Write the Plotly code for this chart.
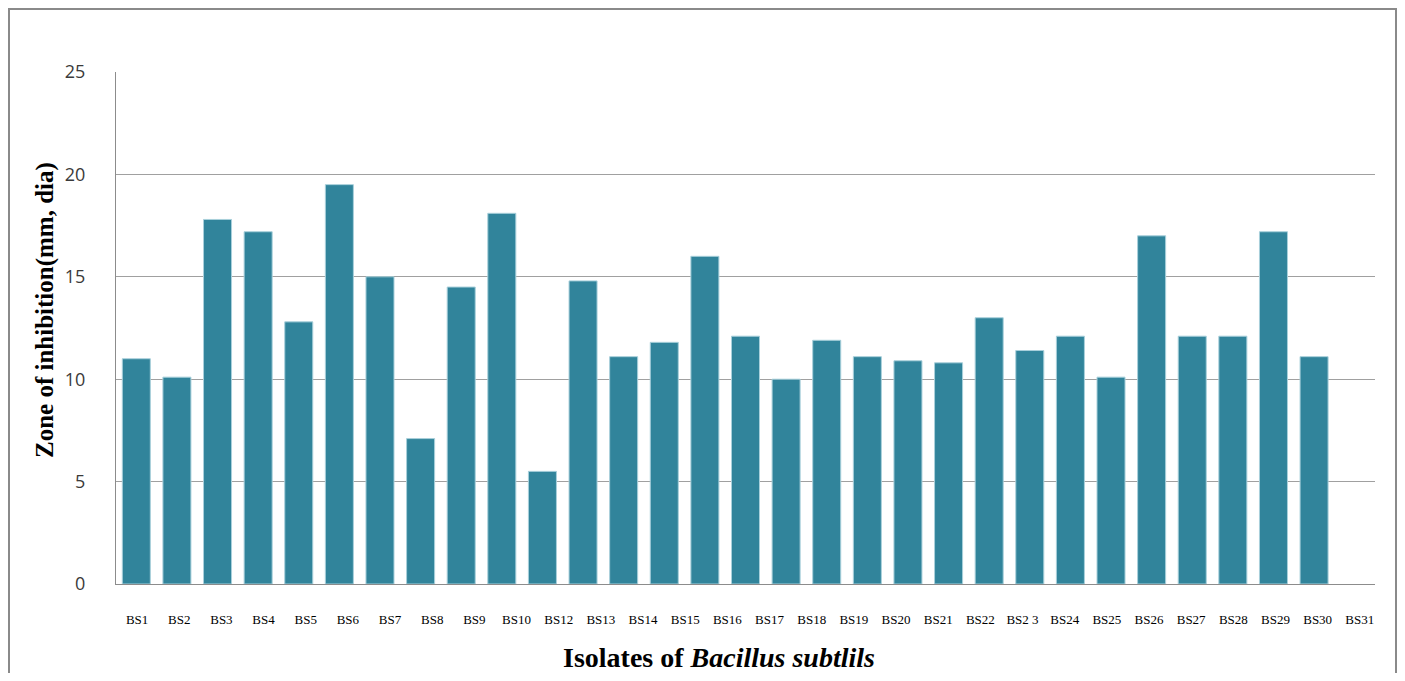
import plotly.graph_objects as go

isolates = ["BS1", "BS2", "BS3", "BS4", "BS5", "BS6", "BS7", "BS8", "BS9", "BS10",
            "BS12", "BS13", "BS14", "BS15", "BS16", "BS17", "BS18", "BS19", "BS20", "BS21",
            "BS22", "BS2 3", "BS24", "BS25", "BS26", "BS27", "BS28", "BS29", "BS30", "BS31"]
zone = [11.0, 10.1, 17.8, 17.2, 12.8, 19.5, 15.0, 7.1, 14.5, 18.1,
        5.5, 14.8, 11.1, 11.8, 16.0, 12.1, 10.0, 11.9, 11.1, 10.9,
        10.8, 13.0, 11.4, 12.1, 10.1, 17.0, 12.1, 12.1, 17.2, 11.1]
y_ticks = [0, 5, 10, 15, 20, 25]

bar_color = "#31849B"

fig = go.Figure()
fig.add_trace(go.Bar(
    x=isolates, y=zone,
    marker=dict(color=bar_color, line=dict(color="#a9d0db", width=1)),
    width=0.69, showlegend=False, hoverinfo="x+y",
))
# dummy trace carrying the category labels on the overlay axis
fig.add_trace(go.Scatter(
    x=isolates, y=[0] * len(isolates), xaxis="x2", mode="markers",
    marker=dict(opacity=0), showlegend=False, hoverinfo="skip",
))

# page body has an 8px margin, so the figure starts at (8, 8)
L, T, R, B = 108, 64, 30, 89
PW, PH = 1259, 512

fig.update_layout(
    width=L + PW + R, height=T + PH + B,
    margin=dict(l=L, r=R, t=T, b=B),
    paper_bgcolor="white", plot_bgcolor="white",
    xaxis=dict(
        type="category", range=[-0.5, 30.5],
        showticklabels=False, showgrid=False, ticks="",
        showline=True, linecolor="#8c8c8c", linewidth=1,
    ),
    xaxis2=dict(
        type="category", overlaying="x", anchor="y", side="bottom",
        range=[-0.5, 29.36], showgrid=False, showline=False, ticks="",
        tickfont=dict(family="Liberation Serif", size=13, color="#000000"),
        ticklabelstandoff=26,
    ),
    yaxis=dict(
        range=[0, 25], tickvals=y_ticks,
        showgrid=True, gridcolor="#a0a0a0", gridwidth=1,
        showline=True, linecolor="#8c8c8c", linewidth=1,
        ticks="", zeroline=False,
        tickfont=dict(family="Open Sans", size=18, color="#3a3a3a"),
        ticklabelstandoff=26,
    ),
    annotations=[
        dict(text="<b>Zone of inhibition(mm, dia)</b>", xref="paper", yref="paper",
             x=(45 - 116) / PW, y=(584 - 310) / PH, textangle=-90, showarrow=False,
             xanchor="center", yanchor="middle",
             font=dict(family="Liberation Serif", size=25, color="#000000")),
        dict(text="<b>Isolates of <i>Bacillus subtlils</i></b>", xref="paper", yref="paper",
             x=(719 - 116) / PW, y=(584 - 674) / PH, showarrow=False,
             xanchor="center", yanchor="bottom", borderpad=0,
             font=dict(family="Liberation Serif", size=28, color="#000000")),
    ],
    shapes=[
        dict(type="rect", xref="paper", yref="paper",
             x0=(9 - 116) / PW, x1=(1396 - 116) / PW,
             y0=(584 - 700) / PH, y1=(584 - 9) / PH,
             line=dict(color="#8a8a8a", width=2), fillcolor="rgba(0,0,0,0)", layer="below"),
    ],
)

fig.write_html("out.html")
